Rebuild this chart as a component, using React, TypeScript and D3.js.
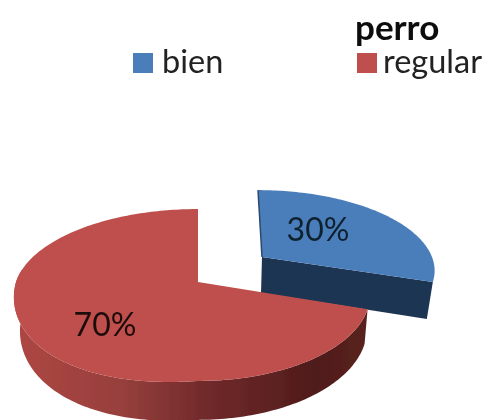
import React from "react";
import * as d3 from "d3";

const categories = ["bien", "regular"];
const values = [30, 70];
const labels = ["30%", "70%"];
const title = "perro";
const colors = ["#4a7ebb", "#be504d"];

const width = 491, height = 420;
const k = 0.151; // perspective strength

type Proj = { cx: number; cy: number; aL: number; aR: number; b: number; skew: number; bulge: number };

// turn an angle on the flat pie into a screen point
const project = (p: Proj, a: number): [number, number] => {
  const u = Math.sin(a), v = -Math.cos(a);
  const d = 1 - k * v;
  const scaleX = u < 0 ? p.aL : p.aR;
  const sag = u < 0 && v > 0 ? p.bulge * -u * v : 0; // lower left sits a bit lower in the photo
  return [p.cx + (scaleX * u) / d + p.skew * v, p.cy + (p.b * v) / d + sag];
};

const rim = (p: Proj, a0: number, a1: number) =>
  d3.range(a0, a1, 0.02).concat([a1]).map((a) => project(p, a));

const line = d3.line();

const slices = d3.pie<number>().sort(null)(values);

const blueTop: Proj = { cx: 262, cy: 257, aL: 170, aR: 170, b: 77, skew: 4, bulge: 0 };
const blueBottom: Proj = { cx: 261, cy: 293, aL: 165, aR: 165, b: 80, skew: 4, bulge: 0 };
const redTop: Proj = { cx: 198, cy: 282, aL: 182, aR: 170, b: 84, skew: 0, bulge: 16 };
const redBottom: Proj = { cx: 198, cy: 315, aL: 176, aR: 167, b: 89, skew: 0, bulge: 16 };

export default function App() {
  const blue = slices[0], red = slices[1];
  const apexB: [number, number] = [blueTop.cx, blueTop.cy];
  const apexR: [number, number] = [redTop.cx, redTop.cy];
  const bluePts = rim(blueTop, blue.startAngle, blue.endAngle);
  const tipB = bluePts[bluePts.length - 1];
  const tipBLow = project(blueBottom, blue.endAngle);
  const redPts = rim(redTop, red.startAngle, red.endAngle);

  const redSideEnd = (3 * Math.PI) / 2 + 0.15;
  const redSide = rim(redTop, red.startAngle, redSideEnd).concat(
    rim(redBottom, red.startAngle, redSideEnd).reverse()
  );

  return (
    <svg
      width={width}
      height={height}
      style={{ position: "absolute", left: 0, top: 0, background: "#fff" }}
      fontFamily="Lato, sans-serif"
    >
      <defs>
        <linearGradient id="redSide" gradientUnits="userSpaceOnUse" x1={14} x2={368} y1={0} y2={0}>
          <stop offset="0" stopColor="#ae4643" />
          <stop offset="0.3" stopColor="#97403d" />
          <stop offset="0.55" stopColor="#70292a" />
          <stop offset="0.85" stopColor="#501c1b" />
          <stop offset="1" stopColor="#5a2220" />
        </linearGradient>
        <filter id="soft" x="-5%" y="-5%" width="110%" height="110%">
          <feGaussianBlur stdDeviation="0.6" />
        </filter>
      </defs>
      <g filter="url(#soft)">
        {/* blue slice: cut face first, red goes over it */}
        <path
          d={line([apexB, tipB, tipBLow, [blueBottom.cx, blueBottom.cy]]) + "Z"}
          fill="#1f3552"
        />
        <path d={line([apexB, ...bluePts]) + "Z"} fill={colors[0]} />
        <path d={line([apexB, bluePts[0]]) as string} stroke="#2c4a70" strokeWidth={1.5} fill="none" />

        {/* red slice */}
        <path d={line(redSide) + "Z"} fill="url(#redSide)" />
        <path d={line([apexR, ...redPts]) + "Z"} fill={colors[1]} />

        <text x={318} y={241} textAnchor="middle" fontSize={32} fill="#10202f">{labels[0]}</text>
        <text x={105} y={336} textAnchor="middle" fontSize={32} fill="#1f0a08">{labels[1]}</text>

        <text x={355} y={40} fontSize={35} fontWeight="bold" fill="#111">{title}</text>
        {categories.map((c, i) => {
          const x = i === 0 ? 133 : 357;
          return (
            <g key={c}>
              <rect x={x} y={53} width={20} height={20} fill={colors[i]} />
              <text x={x + (i === 0 ? 29 : 26)} y={73} fontSize={32.5} fill="#222">{c}</text>
            </g>
          );
        })}
      </g>
    </svg>
  );
}
